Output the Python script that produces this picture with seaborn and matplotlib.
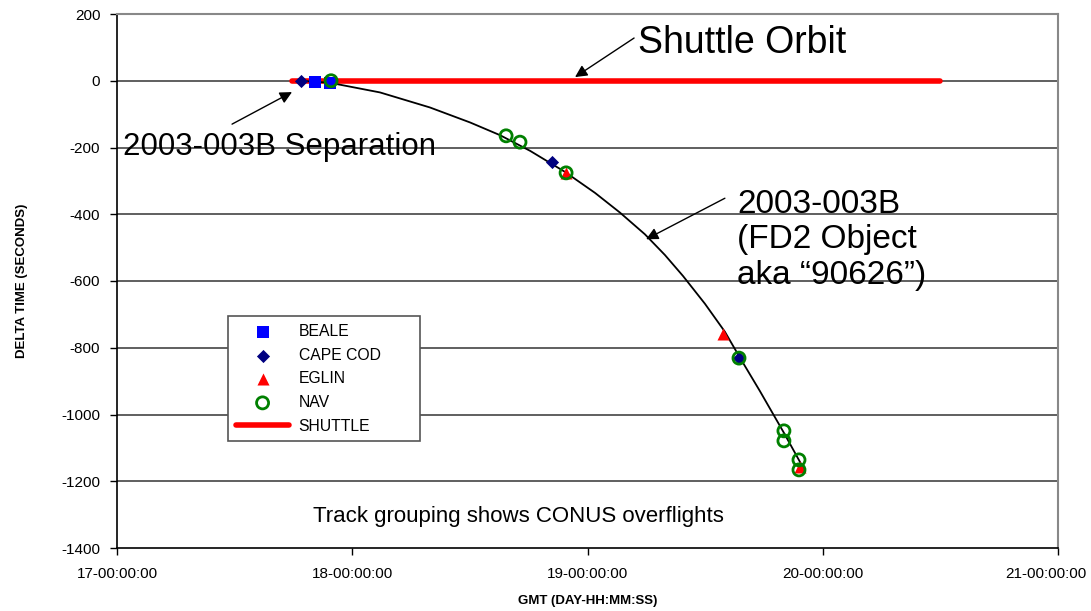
import numpy as np
import pandas as pd
import matplotlib
matplotlib.use("Agg")
import matplotlib.pyplot as plt
import matplotlib.transforms as mtransforms
import seaborn as sns

# ==============================
# Data (x in days, y = delta time in seconds)
# ==============================
beale_x = [17.842, 17.905]
beale_y = [-3, -8]

capecod_x = [17.782, 18.849, 19.644]
capecod_y = [0, -243, -831]

eglin_x = [18.909, 19.576, 19.903]
eglin_y = [-276, -760, -1157]

nav_x = [17.910, 18.654, 18.713, 18.909, 19.644, 19.835, 19.835, 19.899, 19.899]
nav_y = [0, -165, -184, -276, -831, -1049, -1079, -1136, -1166]

shuttle_x = [17.744, 20.498]
shuttle_y = [0, 0]

# fitted track of 2003-003B
track_x = [17.778, 17.905, 18.118, 18.330, 18.501, 18.628, 18.756, 18.904, 19.032,
           19.138, 19.244, 19.329, 19.406, 19.499, 19.584, 19.644, 19.733, 19.835, 19.925]
track_y = [0, -6, -35, -80, -125, -163, -210, -273, -336,
           -395, -460, -522, -585, -668, -752, -825, -930, -1055, -1170]

x_ticks = [17, 18, 19, 20, 21]
x_labels = ["17-00:00:00", "18-00:00:00", "19-00:00:00", "20-00:00:00", "21-00:00:00"]
y_ticks = list(range(-1400, 201, 200))

# ==============================
# Plot
# ==============================
sns.set_style("white")
plt.rcParams["font.family"] = ["Liberation Sans", "DejaVu Sans"]
plt.rcParams["axes.unicode_minus"] = False
for key in ["text.color", "axes.labelcolor", "xtick.color", "ytick.color"]:
    plt.rcParams[key] = "black"

fig = plt.figure(figsize=(10.91, 6.11), dpi=100)
ax = fig.add_axes([117 / 1091, 1 - 548 / 611, 941 / 1091, 534 / 611])

for y in y_ticks[1:-1]:
    ax.axhline(y, color="#444444", lw=1.2, zorder=0)

sns.lineplot(x=track_x, y=track_y, sort=False, color="black", lw=1.3, ax=ax, zorder=2)
sns.lineplot(x=shuttle_x, y=shuttle_y, color="red", lw=4, ax=ax, zorder=1, label="SHUTTLE")

sns.scatterplot(x=beale_x, y=beale_y, marker="s", color="#0000ff", s=85,
                edgecolor="#0000ff", linewidth=0, ax=ax, zorder=3, label="BEALE")
sns.scatterplot(x=capecod_x, y=capecod_y, marker="D", color="#000080", s=45,
                edgecolor="#000080", linewidth=0, ax=ax, zorder=3, label="CAPE COD")
sns.scatterplot(x=eglin_x, y=eglin_y, marker="^", color="#ff0000", s=75,
                edgecolor="#ff0000", linewidth=0, ax=ax, zorder=3, label="EGLIN")
sns.scatterplot(x=nav_x, y=nav_y, marker="o", facecolor="none", s=75,
                edgecolor="#008000", linewidth=2, ax=ax, zorder=4, label="NAV")

ax.set_xlim(17, 21)
ax.set_ylim(-1400, 200)
ax.set_xticks(x_ticks)
ax.set_xticklabels(x_labels)
ax.set_yticks(y_ticks)
ax.tick_params(axis="both", direction="out", length=5, width=1, labelsize=11,
               bottom=True, left=True)
ax.tick_params(axis="x", pad=9)
ax.tick_params(axis="y", pad=7)

# last x label pulled in a bit so it stays inside the figure
last = ax.get_xticklabels()[-1]
last.set_transform(last.get_transform() +
                   mtransforms.ScaledTranslation(-12 / 100, 0, fig.dpi_scale_trans))

for side in ["left", "bottom"]:
    ax.spines[side].set_color("black")
    ax.spines[side].set_linewidth(1.2)
for side in ["top", "right"]:
    ax.spines[side].set_color("#888888")
    ax.spines[side].set_linewidth(1.5)

ax.set_xlabel("GMT (DAY-HH:MM:SS)", fontsize=9.5, fontweight="bold", labelpad=10)
ax.set_ylabel("DELTA TIME (SECONDS)", fontsize=9.5, fontweight="bold", labelpad=24)

# annotations
arrow = dict(arrowstyle="-|>", color="black", lw=1, mutation_scale=18,
             shrinkA=0, shrinkB=0)
ax.text(19.215, 112, "Shuttle Orbit", fontsize=27, va="center", ha="left")
ax.annotate("", xy=(18.947, 11), xytext=(19.198, 128), arrowprops=arrow)

ax.text(17.026, -200, "2003-003B Separation", fontsize=22.5, va="center", ha="left")
ax.annotate("", xy=(17.744, -34), xytext=(17.489, -130), arrowprops=arrow)

ax.text(19.635, -477, "2003-003B\n(FD2 Object\naka \u201c90626\u201d)", fontsize=24,
        va="center", ha="left", linespacing=1.2)
ax.annotate("", xy=(19.249, -475), xytext=(19.584, -352), arrowprops=arrow)

ax.text(18.705, -1307, "Track grouping shows CONUS overflights", fontsize=16,
        ha="center", va="center")

# legend in the order of the original
handles, labels = ax.get_legend_handles_labels()
order = ["BEALE", "CAPE COD", "EGLIN", "NAV", "SHUTTLE"]
hmap = dict(zip(labels, handles))
leg = ax.legend([hmap[k] for k in order], order, loc="upper left",
                bbox_to_anchor=(0.118, 0.434, 0.204, 0.0), mode="expand",
                borderaxespad=0, fontsize=11.3, frameon=True, fancybox=False,
                edgecolor="#555555", framealpha=1, handlelength=3.4,
                handletextpad=0.6, borderpad=0.5, labelspacing=0.55)
leg.get_frame().set_linewidth(1.2)

fig.savefig("out.png", dpi=100)
